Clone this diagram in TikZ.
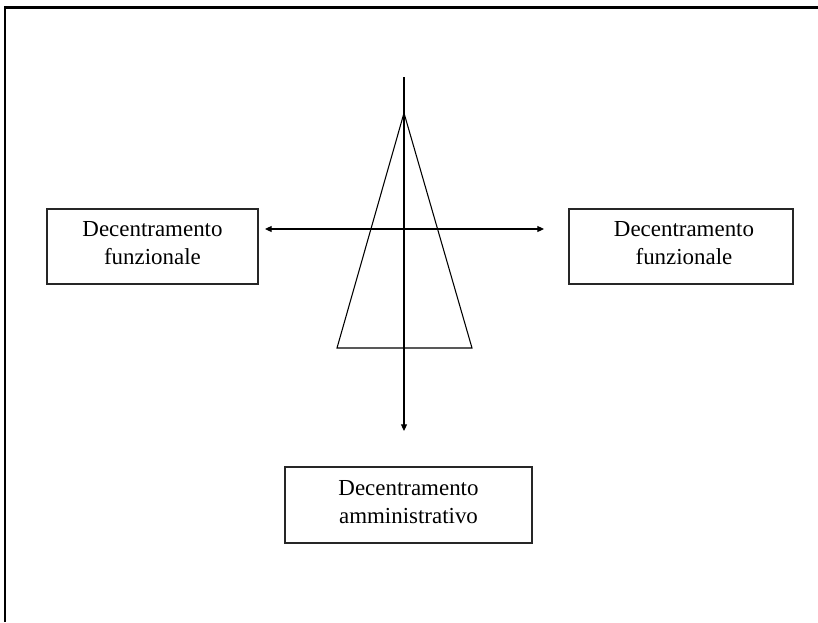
\documentclass[tikz,border=0pt]{standalone}
\usepackage{fontspec}
\setmainfont{Liberation Serif}
\usetikzlibrary{arrows.meta}
\begin{document}
\begin{tikzpicture}[x=0.75pt,y=-0.75pt,
  box/.style={draw=black!85, line width=0.85pt, inner sep=0pt, align=center,
    font=\fontsize{17.2pt}{21pt}\selectfont},
  boxtext/.style={font=\fontsize{17.2pt}{21pt}\selectfont, align=center},
  tip/.style={Triangle[length=5pt,width=4.5pt]},
  conn/.style={line width=0.8pt, -{Triangle[length=5pt,width=4.5pt]}},
  triline/.style={line width=0.8pt}]
\useasboundingbox (0,0) rectangle (818,622);
% frame (cropped)
\draw[line width=1.6pt] (5,622) -- (5,7.5) -- (818,7.5);
% boxes
\node[box, minimum width=211*0.75pt, minimum height=75*0.75pt] (L) at (152.5,246.5) {};
\node[boxtext] (Lt) at (152.5,243) {Decentramento\\funzionale};
\node[box, minimum width=224*0.75pt, minimum height=75*0.75pt] (R) at (681,246.5) {};
\node[boxtext] (Rt) at (684,243) {Decentramento\\funzionale};
\node[box, minimum width=247*0.75pt, minimum height=76*0.75pt] (B) at (408.5,505) {};
\node[boxtext] (Bt) at (408.5,502) {Decentramento\\amministrativo};
% triangle
\coordinate (apex) at (404,113);
\coordinate (bl) at (337,348);
\coordinate (br) at (472,348);
\draw[triline] (apex) -- (bl) -- (br) -- cycle;
% vertical axis
\coordinate (vtop) at (404,77);
\coordinate (vbot) at (404,431);
\draw[conn] (vtop) -- (vbot);
% horizontal double arrow
\coordinate (hl) at (265,229);
\coordinate (hr) at (544,229);
\draw[line width=0.8pt, {Triangle[length=5pt,width=4.5pt]}-{Triangle[length=5pt,width=4.5pt]}] (hl) -- (hr);
\end{tikzpicture}
\end{document}
